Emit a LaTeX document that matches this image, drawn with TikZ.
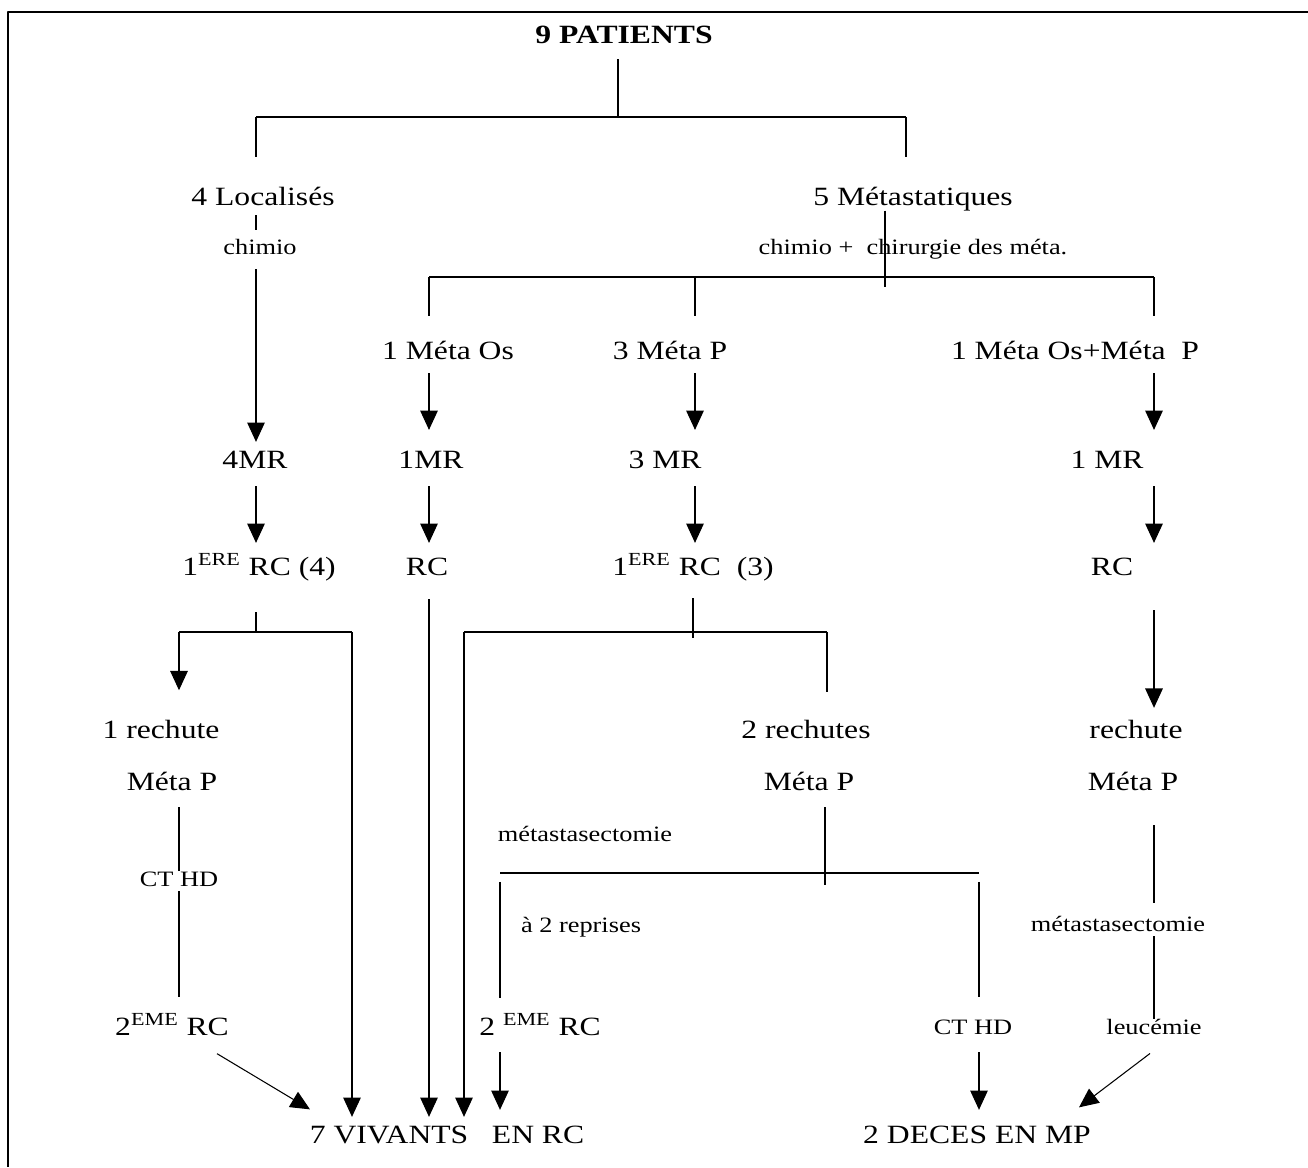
\documentclass[tikz,border=0pt]{standalone}
\usepackage{fontspec}
\setmainfont{Liberation Serif}[FakeStretch=1.2]
\usetikzlibrary{arrows.meta,calc}

\newcommand{\bigsz}{\fontsize{15}{17}\selectfont}
\newcommand{\smallsz}{\fontsize{12.5}{14}\selectfont}

\tikzset{
  txt/.style={font=\bigsz, inner sep=0pt, text height=11pt, text depth=3pt},
  lbl/.style={font=\smallsz, inner sep=0pt, text height=9pt, text depth=2.5pt},
  ln/.style={line width=0.6pt},
  bar/.style={line width=1.1pt},
  arr/.style={line width=0.6pt, -{Triangle[length=11pt,width=10pt]}},
}

\begin{document}
\begin{tikzpicture}[line join=round, x=0.02cm, y=-0.02cm]
  \useasboundingbox (0,0) rectangle (1308,1167);
  \draw[bar] (1308,12) -- (8,12) -- (8,1167);

  % texts
  \node[txt] (patients) at (624,36) {\textbf{9 PATIENTS}};
  \node[txt] (loc) at (263,198) {4 Localisés};
  \node[txt] (meta) at (913,198) {5 Métastatiques};
  \node[lbl] (chimio) at (260,249) {chimio};
  \node[lbl] (chir) at (913,249) {chimio +\ \ chirurgie des méta.};
  \node[txt] (os) at (448,352) {1 Méta Os};
  \node[txt] (metp) at (670,352) {3 Méta P};
  \node[txt] (osp) at (1075,352) {1 Méta Os+Méta\ \ P};
  \node[txt] (mr4) at (255,461) {4MR};
  \node[txt] (mr1) at (431,461) {1MR};
  \node[txt] (mr3) at (665,461) {3 MR};
  \node[txt] (mr1b) at (1107,461) {1 MR};
  \node[txt] (rca) at (259,568) {1\textsuperscript{ERE} RC (4)};
  \node[txt] (rcb) at (427,568) {RC};
  \node[txt] (rcc) at (693,568) {1\textsuperscript{ERE} RC\ \ (3)};
  \node[txt] (rcd) at (1112,568) {RC};
  \node[txt] (recha) at (161,731) {1 rechute};
  \node[txt] (rechb) at (806,731) {2 rechutes};
  \node[txt] (rechc) at (1136,731) {rechute};
  \node[txt] (mpa) at (172,783) {Méta P};
  \node[txt] (mpb) at (809,783) {Méta P};
  \node[txt] (mpc) at (1133,783) {Méta P};
  \node[lbl] (cthda) at (179,881) {CT HD};
  \node[lbl] (ectb) at (585,836) {métastasectomie};
  \node[lbl] (reprises) at (581,927) {à 2 reprises};
  \node[lbl] (ectc) at (1118,926) {métastasectomie};
  \node[txt] (rc2a) at (172,1028) {2\textsuperscript{EME} RC};
  \node[txt] (rc2b) at (540,1028) {2 \textsuperscript{EME} RC};
  \node[lbl] (cthdb) at (973,1029) {CT HD};
  \node[lbl] (leuc) at (1154,1029) {leucémie};
  \node[txt] (vivants) at (447,1136) {7 VIVANTS\ \ \ EN RC};
  \node[txt] (deces) at (977,1136) {2 DECES EN MP};

  % joints
  \coordinate (jtop) at (618,117);
  \coordinate (jl) at (256,117);
  \coordinate (jr) at (906,117);
  \coordinate (jm) at (885,287);
  \coordinate (ja) at (429,277);
  \coordinate (jb) at (695,277);
  \coordinate (jc) at (1154,277);
  \coordinate (jsa) at (256,632);
  \coordinate (ka) at (179,632);
  \coordinate (kb) at (352,632);
  \coordinate (jsc) at (693,638);
  \coordinate (kc) at (464,632);
  \coordinate (kd) at (827,632);
  \coordinate (jmb) at (825,885);
  \coordinate (ke) at (500,873);
  \coordinate (kf) at (979,873);

  % top split
  \draw[ln, shorten <=6pt] (patients.south -| jtop) -- (jtop);
  \draw[bar] (jl) -- (jr);
  \draw[ln, shorten >=16pt] (jl) -- (jl |- loc.north);
  \draw[ln, shorten >=16pt] (jr) -- (jr |- meta.north);

  % localises
  \draw[ln, shorten <=2.6pt, shorten >=5pt] (loc.south -| jl) -- (jl |- chimio.north);
  \draw[arr, shorten <=5.7pt, shorten >=3.7pt] (chimio.south -| jl) -- (jl |- mr4.north);
  \draw[arr, shorten <=7.1pt, shorten >=7.1pt] (mr4.south -| jl) -- (jl |- rca.north);

  % metastatiques
  \draw[ln] (meta.south -| jm) -- (jm);
  \draw[bar] (ja) -- (jc);
  \draw[ln, shorten >=13.4pt] (ja) -- (ja |- os.north);
  \draw[ln, shorten >=13.4pt] (jb) -- (jb |- metp.north);
  \draw[ln, shorten >=13.4pt] (jc) -- (jc |- osp.north);
  \draw[arr, shorten <=4.9pt, shorten >=10.5pt] (os.south -| ja) -- (ja |- mr1.north);
  \draw[arr, shorten <=4.9pt, shorten >=10.5pt] (metp.south -| jb) -- (jb |- mr3.north);
  \draw[arr, shorten <=4.9pt, shorten >=10.5pt] (osp.south -| jc) -- (jc |- mr1b.north);
  \draw[arr, shorten <=7.1pt, shorten >=7.1pt] (mr1.south -| ja) -- (ja |- rcb.north);
  \draw[arr, shorten <=7.1pt, shorten >=7.1pt] (mr3.south -| jb) -- (jb |- rcc.north);
  \draw[arr, shorten <=7.1pt, shorten >=7.1pt] (mr1b.south -| jc) -- (jc |- rcd.north);

  % first RC splits
  \draw[ln, shorten <=18pt] (rca.south -| jsa) -- (jsa);
  \draw[bar] (ka) -- (kb);
  \draw[arr, shorten >=16pt] (ka) -- (ka |- recha.north);
  \draw[arr, shorten >=3.7pt] (kb) -- (kb |- vivants.north);
  \draw[arr, shorten <=10.5pt, shorten >=3.7pt] (rcb.south -| ja) -- (ja |- vivants.north);
  \draw[ln, shorten <=10pt] (rcc.south -| jsc) -- (jsc);
  \draw[bar] (kc) -- (kd);
  \draw[arr, shorten >=3.7pt] (kc) -- (kc |- vivants.north);
  \draw[ln, shorten >=15pt] (kd) -- (kd |- rechb.north);
  \draw[arr, shorten <=16.8pt, shorten >=6pt] (rcd.south -| jc) -- (jc |- rechc.north);

  % relapses
  \draw[ln, shorten <=6.6pt] (mpa.south -| cthda) -- (cthda.north);
  \draw[ln, shorten >=10.5pt] (cthda.south) -- (cthda.south |- rc2a.north);
  \draw[ln, shorten <=6.6pt] (mpb.south -| jmb) -- (jmb);
  \draw[bar] (ke) -- (kf);
  \draw[ln, shorten <=5pt, shorten >=10pt] (ke) -- (ke |- rc2b.north);
  \draw[ln, shorten <=5pt, shorten >=12pt] (kf) -- (kf |- cthdb.north);
  \draw[ln, shorten <=16.8pt, shorten >=7.3pt] (mpc.south -| jc) -- (jc |- ectc.north);
  \draw[ln] (ectc.south -| jc) -- (jc |- leuc.north);

  % outcomes
  \draw[arr] ($(rc2a.south)+(45,13)$) -- ($(vivants.north)+(-137,-14)$);
  \draw[arr, shorten <=6.6pt, shorten >=7.7pt] (rc2b.south -| ke) -- (ke |- vivants.north);
  \draw[arr, shorten <=7.4pt, shorten >=7.7pt] (cthdb.south -| kf) -- (kf |- deces.north);
  \draw[arr] ($(leuc.south)+(-4,14)$) -- ($(deces.north)+(102,-16)$);
\end{tikzpicture}
\end{document}
